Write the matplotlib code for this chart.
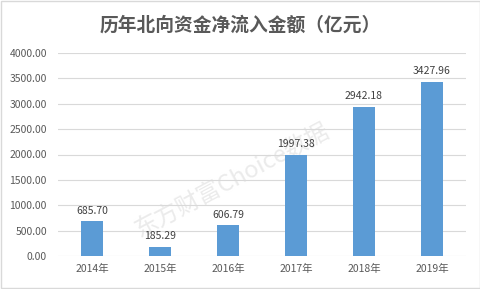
import matplotlib.pyplot as plt
import numpy as np

plt.rcParams['font.family'] = ['Noto Sans CJK SC', 'DejaVu Sans']

years = ["2014年", "2015年", "2016年", "2017年", "2018年", "2019年"]
inflow = [685.70, 185.29, 606.79, 1997.38, 2942.18, 3427.96]
yticks = [0, 500, 1000, 1500, 2000, 2500, 3000, 3500, 4000]

fig = plt.figure(figsize=(4.81, 2.89), dpi=100)
ax = fig.add_axes([58 / 481, 1 - 256 / 289, 408 / 481, 203 / 289])

x = np.arange(len(years))
ax.bar(x, inflow, width=0.32, color="#5B9BD5", zorder=2)
for xi, v in zip(x, inflow):
    ax.text(xi, v + 110, f"{v:.2f}", ha="center", va="bottom", fontsize=7.5,
            color="#404040", zorder=3)

ax.set_xlim(-0.5, len(years) - 0.5)
ax.set_ylim(0, 4000)
ax.set_yticks(yticks)
ax.set_yticklabels([f"{t:.2f}" for t in yticks])
ax.set_xticks(x)
ax.set_xticklabels(years)
ax.tick_params(length=0, labelsize=7.5, colors="#595959")
ax.tick_params(axis="x", pad=6)
ax.tick_params(axis="y", pad=8)
ax.grid(True, axis="y", color="#D9D9D9", linewidth=0.8, zorder=0)
for s in ax.spines.values():
    s.set_visible(False)

# watermark sits behind bars and labels
ax.text(232 / 481, 1 - 180 / 289, "东方财富Choice数据", transform=fig.transFigure,
        ha="center", va="center", fontsize=17, rotation=28, color="#EBEBEB", zorder=1)

fig.text(0.5, 1 - 25 / 289, "历年北向资金净流入金额（亿元）", ha="center", va="center",
         fontsize=13.5, fontweight="bold", color="#595959")

fig.patches.append(plt.Rectangle((0.002, 0.003), 0.995, 0.994, transform=fig.transFigure,
                                 fill=False, edgecolor="#D9D9D9", linewidth=1))

fig.savefig("out.png", dpi=100)
